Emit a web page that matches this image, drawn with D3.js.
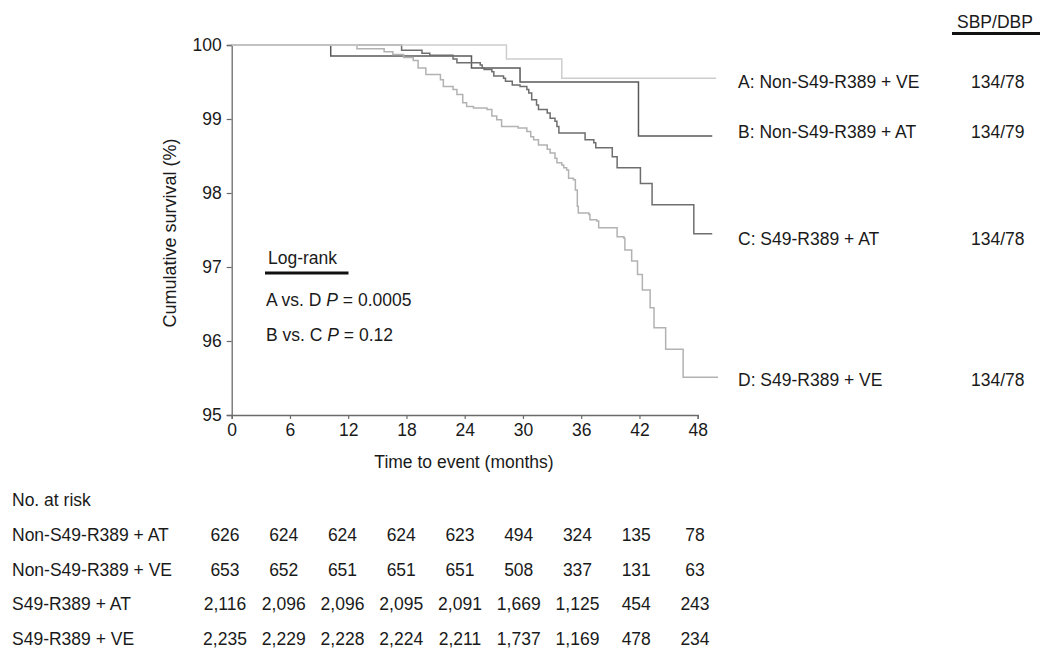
<!DOCTYPE html>
<html>
<head>
<meta charset="utf-8">
<script src="https://cdn.jsdelivr.net/npm/d3@7"></script>
<style>
  body { margin: 0; background: #fff; }
  svg { display: block; font-family: 'Liberation Sans', Arial, Helvetica, sans-serif; }
  text { fill: #1a1a1a; }
</style>
</head>
<body>
<svg id="chart" width="1050" height="663"></svg>
<script>
// Kaplan-Meier step curves: event times (months) and survival (%) after each drop
var timesA = [28.3, 34.0]
var survA = [99.81, 99.55]

var timesB = [10.2, 24.7, 29.7, 41.9]
var survB = [99.85, 99.69, 99.5, 98.77]

var timesC = [17.5, 19.6, 20.4, 22.8, 23.2, 25.6, 25.8, 26.0, 26.8, 27.0, 28.0, 28.2, 28.9,
  29.7, 30.4, 30.6, 30.9, 31.4, 31.6, 32.5, 32.8, 33.3, 33.5, 33.7, 36.4, 37.3, 37.5,
  39.2, 39.7, 42.1, 43.3, 47.6]
var survC = [99.93, 99.89, 99.86, 99.81, 99.76, 99.73, 99.69, 99.67, 99.64, 99.58, 99.55,
  99.51, 99.46, 99.44, 99.4, 99.35, 99.26, 99.19, 99.13, 99.08, 99.01, 98.97, 98.9, 98.81,
  98.72, 98.68, 98.61, 98.49, 98.34, 98.13, 97.84, 97.45]

var timesD = [12.9, 15.7, 16.6, 17.7, 18.7, 19.2, 20.0, 21.5, 21.8, 22.8, 23.2, 23.8, 24.2,
  24.9, 26.3, 26.8, 27.3, 27.8, 29.5, 30.4, 30.8, 31.1, 31.6, 32.5, 32.8, 33.3, 33.5, 34.0,
  34.2, 34.5, 34.7, 35.2, 35.4, 35.6, 35.7, 36.8, 36.9, 37.6, 37.8, 39.7, 40.4, 40.5, 41.2,
  41.8, 42.3, 43.1, 43.5, 44.7, 46.5]
var survD = [99.95, 99.91, 99.87, 99.83, 99.79, 99.69, 99.6, 99.53, 99.44, 99.4, 99.33, 99.22,
  99.17, 99.15, 99.13, 99.04, 98.99, 98.9, 98.88, 98.83, 98.76, 98.72, 98.65, 98.59, 98.54,
  98.47, 98.41, 98.38, 98.34, 98.31, 98.2, 98.18, 98.04, 97.82, 97.73, 97.71, 97.64, 97.62,
  97.53, 97.41, 97.39, 97.23, 97.08, 96.9, 96.69, 96.45, 96.18, 95.89, 95.51]

var groupLabels = ['A: Non-S49-R389 + VE', 'B: Non-S49-R389 + AT', 'C: S49-R389 + AT', 'D: S49-R389 + VE']
var bpValues = ['134/78', '134/79', '134/78', '134/78']
var endTimes = [49.9, 49.5, 49.5, 50.1]

var xTicks = [0, 6, 12, 18, 24, 30, 36, 42, 48]
var yTicks = [95, 96, 97, 98, 99, 100]

var riskRows = ['Non-S49-R389 + AT', 'Non-S49-R389 + VE', 'S49-R389 + AT', 'S49-R389 + VE']
var riskAT = [626, 624, 624, 624, 623, 494, 324, 135, 78]
var riskVE = [653, 652, 651, 651, 651, 508, 337, 131, 63]
var riskSAT = [2116, 2096, 2096, 2095, 2091, 1669, 1125, 454, 243]
var riskSVE = [2235, 2229, 2228, 2224, 2211, 1737, 1169, 478, 234]

var svg = d3.select('#chart')
var x = d3.scaleLinear().domain([0, 48]).range([231.7, 697.7])
var y = d3.scaleLinear().domain([95, 100]).range([415, 45])
var axisColor = '#6a6a6a'
var fs = '17.5px'

// axes
var yAxis = svg.append('g').attr('transform', 'translate(' + x(0) + ',0)')
  .call(d3.axisLeft(y).tickValues(yTicks).tickSize(5).tickPadding(5).tickFormat(d3.format('d')))
var xAxis = svg.append('g').attr('transform', 'translate(0,' + y(95) + ')')
  .call(d3.axisBottom(x).tickValues(xTicks).tickSize(4).tickPadding(5))
;[xAxis, yAxis].forEach(function(ax) {
  ax.select('.domain').attr('stroke', axisColor).attr('stroke-width', 1.3)
  ax.selectAll('.tick line').attr('stroke', axisColor).attr('stroke-width', 1.2)
  ax.selectAll('.tick text').style('font-size', fs).attr('fill', '#1a1a1a')
})

svg.append('text')
  .attr('transform', 'translate(176,' + (y(97.5) + 3) + ') rotate(-90)')
  .attr('text-anchor', 'middle')
  .style('font-size', '18px')
  .text('Cumulative survival (%)')
svg.append('text')
  .attr('x', 464).attr('y', 468)
  .attr('text-anchor', 'middle')
  .style('font-size', fs)
  .text('Time to event (months)')

// curves
function steps(times, surv, end) {
  var pts = [[0, 100]]
  times.forEach(function(t, i) { pts.push([t, surv[i]]) })
  pts.push([end, surv[surv.length - 1]])
  return pts
}
var series = [
  { pts: steps(timesB, survB, endTimes[1]), color: '#5a5a5a' },
  { pts: steps(timesC, survC, endTimes[2]), color: '#6e6e6e' },
  { pts: steps(timesD, survD, endTimes[3]), color: '#b2b2b2' },
  { pts: steps(timesA, survA, endTimes[0]), color: '#cdcdcd' }
]
var line = d3.line()
  .x(function(d) { return x(d[0]) })
  .y(function(d) { return y(d[1]) })
  .curve(d3.curveStepAfter)
svg.append('g').selectAll('path')
  .data(series)
  .enter()
  .append('path')
  .attr('d', function(d) { return line(d.pts) })
  .attr('fill', 'none')
  .attr('stroke', function(d) { return d.color })
  .attr('stroke-width', 1.5)

// right-hand labels
var labelY = [88, 137.5, 244.5, 386]
var legend = svg.append('g').style('font-size', fs)
legend.selectAll('text.grp')
  .data(groupLabels)
  .enter()
  .append('text')
  .attr('class', 'grp')
  .attr('x', 738)
  .attr('y', function(d, i) { return labelY[i] })
  .text(function(d) { return d })
legend.selectAll('text.bp')
  .data(bpValues)
  .enter()
  .append('text')
  .attr('class', 'bp')
  .attr('x', 971)
  .attr('y', function(d, i) { return labelY[i] })
  .text(function(d) { return d })
legend.append('text').attr('x', 957).attr('y', 28).text('SBP/DBP')
legend.append('line').attr('x1', 952).attr('x2', 1040).attr('y1', 33.5).attr('y2', 33.5)
  .attr('stroke', '#111').attr('stroke-width', 3)

// log-rank box
var lr = svg.append('g').style('font-size', fs)
lr.append('text').attr('x', 268).attr('y', 264).text('Log-rank')
lr.append('line').attr('x1', 265).attr('x2', 348.5).attr('y1', 273).attr('y2', 273)
  .attr('stroke', '#111').attr('stroke-width', 3)
var pRows = [['A vs. D ', ' = 0.0005'], ['B vs. C ', ' = 0.12']]
lr.selectAll('text.p')
  .data(pRows)
  .enter()
  .append('text')
  .attr('class', 'p')
  .attr('x', 266)
  .attr('y', function(d, i) { return 306 + i * 35 })
  .each(function(d) {
    var t = d3.select(this)
    t.append('tspan').text(d[0])
    t.append('tspan').style('font-style', 'italic').text('P')
    t.append('tspan').text(d[1])
  })

// number at risk table
var colX = d3.scaleLinear().domain([0, 48]).range([225, 695])
var riskData = [riskAT, riskVE, riskSAT, riskSVE]
var rowY = [541, 576, 610, 645]
var fmt = d3.format(',')
var table = svg.append('g').style('font-size', fs)
table.append('text').attr('x', 12).attr('y', 506).text('No. at risk')
riskData.forEach(function(vals, r) {
  table.append('text').attr('x', 12).attr('y', rowY[r]).text(riskRows[r])
  table.selectAll('text.r' + r)
    .data(vals)
    .enter()
    .append('text')
    .attr('class', 'r' + r)
    .attr('x', function(d, i) { return colX(xTicks[i]) })
    .attr('y', rowY[r])
    .attr('text-anchor', 'middle')
    .text(function(d) { return fmt(d) })
})
</script>
</body>
</html>
